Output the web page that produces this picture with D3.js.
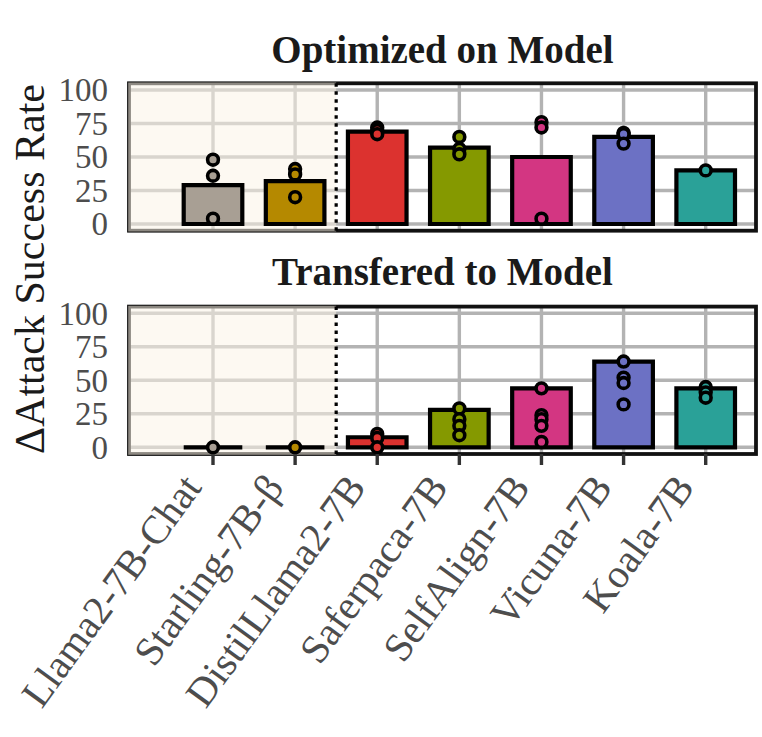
<!DOCTYPE html>
<html>
    <head>
        <title>Attack success rate</title>
        <style>
body {
    margin: 0;
    background: #fff;
}
#chart svg {
    display: block;
}
text {
    font-family: "Liberation Serif", "Times New Roman", serif;
}
        </style>
    </head>
    <body>
        <div id="chart"></div>
        <script src="https://d3js.org/d3.v7.min.js"></script>
        <script>

// model names along the x axis
const categories = ["Llama2-7B-Chat", "Starling-7B-β", "DistilLlama2-7B", "Saferpaca-7B", "SelfAlign-7B", "Vicuna-7B", "Koala-7B"]
const colors = ["#a89f94", "#b58900", "#dc322f", "#859900", "#d33682", "#6c71c4", "#2aa198"]

// panel 1 : optimized on model (bar = mean, dots = single runs)
const optimizedMean = [29, 32, 69, 57, 50, 65, 40]
const optimizedRuns = [[48, 36, 4], [41, 37, 20], [72, 70, 67], [65, 56, 52], [76, 72, 4], [68, 67, 60], [40]]

// panel 2 : transfered to model
const transferMean = [0, 0, 7.5, 28, 44, 64, 44]
const transferRuns = [[0], [0], [10, 7, 0], [29, 21, 16, 9], [44, 24, 21, 16, 4], [64, 52, 48, 32], [45, 41, 37]]

const yTicks = [0, 25, 50, 75, 100]
const shadedCount = 2   // first two models are the "safe" ones

const W = 762, H = 737
const left = 129, right = 756
const barWidth = 58.6

const svg = d3.select("#chart").append("svg")
    .attr("width", W)
    .attr("height", H)

const x = d3.scalePoint()
    .domain(categories)
    .range([213, 705.7])

const panels = [
    {title: "Optimized on Model", titleY: 63, top: 90, bottom: 224, means: optimizedMean, runs: optimizedRuns, axis: false},
    {title: "Transfered to Model", titleY: 285, top: 313.3, bottom: 447.3, means: transferMean, runs: transferRuns, axis: true}
]

panels.forEach(p => {
    const y = d3.scaleLinear()
        .domain([0, 100])
        .range([p.bottom, p.top])
    const y0 = y(-5), y1 = y(105)
    const g = svg.append("g")

    // grid
    g.selectAll(".hgrid")
        .data(yTicks)
        .enter()
        .append("line")
        .attr("x1", left).attr("x2", right)
        .attr("y1", d => y(d)).attr("y2", d => y(d))
        .attr("stroke", "#b3b3b3")
        .attr("stroke-width", 3.4)
    g.selectAll(".vgrid")
        .data(categories)
        .enter()
        .append("line")
        .attr("x1", d => x(d)).attr("x2", d => x(d))
        .attr("y1", y1).attr("y2", y0)
        .attr("stroke", "#b3b3b3")
        .attr("stroke-width", 3.4)

    // border
    g.append("rect")
        .attr("x", left).attr("y", y1)
        .attr("width", right - left).attr("height", y0 - y1)
        .attr("fill", "none")
        .attr("stroke", "#111")
        .attr("stroke-width", 3.8)

    // shaded region for the first models
    const split = (x(categories[shadedCount - 1]) + x(categories[shadedCount])) / 2
    g.append("rect")
        .attr("x", left - 0.8).attr("y", y1 - 0.8)
        .attr("width", split - left + 0.8).attr("height", y0 - y1 + 1.6)
        .attr("fill", "rgb(251,244,230)")
        .attr("fill-opacity", 0.53)
    g.append("line")
        .attr("x1", split).attr("x2", split)
        .attr("y1", y1).attr("y2", y0)
        .attr("stroke", "#000")
        .attr("stroke-width", 3.2)
        .attr("stroke-dasharray", "3.5,4.5")

    // bars (paths so that zero height still shows as a line)
    g.selectAll(".bar")
        .data(categories)
        .enter()
        .append("path")
        .attr("d", (d, i) => {
            const xa = x(d) - barWidth / 2, xb = x(d) + barWidth / 2
            return "M" + xa + "," + y(0) + "H" + xb + "V" + y(p.means[i]) + "H" + xa + "Z"
        })
        .attr("fill", (d, i) => colors[i])
        .attr("stroke", "#000")
        .attr("stroke-width", 4.2)
        .attr("stroke-linejoin", "miter")

    // single runs
    const pts = []
    p.runs.forEach((r, i) => r.forEach(v => pts.push({c: categories[i], i, v})))
    g.selectAll(".pt")
        .data(pts)
        .enter()
        .append("circle")
        .attr("cx", d => x(d.c))
        .attr("cy", d => y(d.v))
        .attr("r", 5.4)
        .attr("fill", d => colors[d.i])
        .attr("stroke", "#000")
        .attr("stroke-width", 3.6)

    // y axis labels
    g.selectAll(".ytick")
        .data(yTicks)
        .enter()
        .append("text")
        .attr("x", 108)
        .attr("y", d => y(d))
        .attr("dy", "0.34em")
        .attr("text-anchor", "end")
        .attr("fill", "#4d4d4d")
        .style("font-size", "33px")
        .text(d => d)

    // panel title
    g.append("text")
        .attr("x", (left + right) / 2)
        .attr("y", p.titleY)
        .attr("text-anchor", "middle")
        .attr("fill", "#1a1a1a")
        .style("font-size", "39px")
        .style("font-weight", "bold")
        .text(p.title)

    if (p.axis) {
        g.selectAll(".xtick")
            .data(categories)
            .enter()
            .append("line")
            .attr("x1", d => x(d)).attr("x2", d => x(d))
            .attr("y1", y0).attr("y2", y0 + 11)
            .attr("stroke", "#333")
            .attr("stroke-width", 3.4)
        g.selectAll(".xlab")
            .data(categories)
            .enter()
            .append("text")
            .attr("transform", d => "translate(" + (x(d) - 33) + "," + (y0 + 17) + ") rotate(-54)")
            .attr("dy", "0.7em")
            .attr("text-anchor", "end")
            .attr("fill", "#4d4d4d")
            .style("font-size", "40.5px")
            .text(d => d)
    }
})

// y axis title
svg.append("text")
    .attr("transform", "translate(44,269) rotate(-90)")
    .attr("text-anchor", "middle")
    .attr("fill", "#1a1a1a")
    .style("font-size", "42px")
    .text("ΔAttack Success Rate")

        </script>
    </body>
</html>
